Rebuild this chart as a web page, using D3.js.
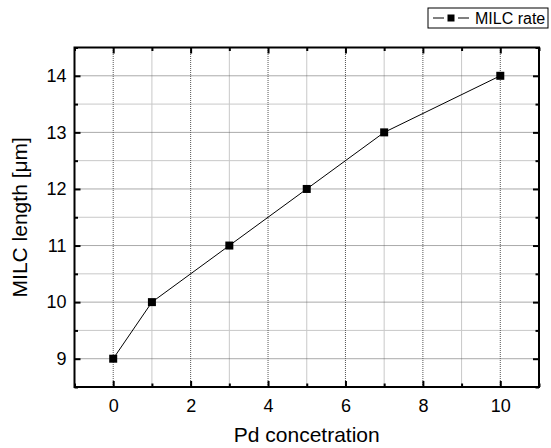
<!DOCTYPE html>
<html>
<head>
<meta charset="utf-8">
<script src="https://cdn.jsdelivr.net/npm/d3@7"></script>
<style>
  body { margin: 0; background: #fff; }
  svg { display: block; font-family: "Liberation Sans", Arial, sans-serif; }
</style>
</head>
<body>
<svg id="theSvg"></svg>
<script>
// data
const pdConc = [0, 1, 3, 5, 7, 10];
const milcLength = [9, 10, 11, 12, 13, 14];
const xTicks = [0, 2, 4, 6, 8, 10];
const yTicks = [9, 10, 11, 12, 13, 14];
const xMinor = [-1, 1, 3, 5, 7, 9, 11];
const yMinor = [8.5, 9.5, 10.5, 11.5, 12.5, 13.5, 14.5];
const seriesName = "MILC rate";

const width = 551, height = 448;
const margin = {top: 47.5, right: 12, bottom: 61, left: 74.5};

const svg = d3.select("#theSvg")
  .attr("width", width)
  .attr("height", height)
  .attr("viewBox", [0, 0, width, height]);

const x = d3.scaleLinear()
  .domain([-1, 11])
  .range([margin.left, width - margin.right]);

const y = d3.scaleLinear()
  .domain([8.5, 14.5])
  .range([height - margin.bottom, margin.top]);

// grid: minor lines light solid, major lines dotted
const grid = svg.append("g").attr("class", "grid");
grid.selectAll(".vminor").data(xMinor.filter(d => d > -1 && d < 11)).join("line")
  .attr("x1", d => x(d)).attr("x2", d => x(d))
  .attr("y1", y(8.5)).attr("y2", y(14.5))
  .attr("stroke", "#c8c8c8").attr("stroke-width", 1);
grid.selectAll(".hminor").data(yMinor.filter(d => d > 8.5 && d < 14.5)).join("line")
  .attr("x1", x(-1)).attr("x2", x(11))
  .attr("y1", d => y(d)).attr("y2", d => y(d))
  .attr("stroke", "#c8c8c8").attr("stroke-width", 1);
grid.selectAll(".vmajor").data(xTicks).join("line")
  .attr("x1", d => x(d)).attr("x2", d => x(d))
  .attr("y1", y(8.5)).attr("y2", y(14.5))
  .attr("stroke", "#555").attr("stroke-width", 1)
  .attr("stroke-dasharray", "1,1");
grid.selectAll(".hmajor").data(yTicks).join("line")
  .attr("x1", x(-1)).attr("x2", x(11))
  .attr("y1", d => y(d)).attr("y2", d => y(d))
  .attr("stroke", "#555").attr("stroke-width", 1)
  .attr("stroke-dasharray", "1,1");

// inward ticks on all four sides
function tickAxis(axisFn, scale, values, size, showLabels) {
  return axisFn(scale).tickValues(values).tickSizeInner(-size).tickSizeOuter(0)
    .tickFormat(showLabels ? d3.format("d") : () => "");
}

function styleAxis(g) {
  g.select(".domain").remove();
  g.selectAll(".tick line").attr("stroke", "#000").attr("stroke-width", 2);
  g.selectAll(".tick text").attr("fill", "#000").style("font-size", "18px");
}

const bottomY = y(8.5), topY = y(14.5), leftX = x(-1), rightX = x(11);

svg.append("g").attr("transform", `translate(0,${bottomY})`)
  .call(tickAxis(d3.axisBottom, x, xTicks, 6, true))
  .call(styleAxis)
  .call(g => g.selectAll(".tick text").attr("y", 12));
svg.append("g").attr("transform", `translate(0,${bottomY})`)
  .call(tickAxis(d3.axisBottom, x, xMinor, 3.5, false)).call(styleAxis);
svg.append("g").attr("transform", `translate(0,${topY})`)
  .call(tickAxis(d3.axisTop, x, xTicks, 6, false)).call(styleAxis);
svg.append("g").attr("transform", `translate(0,${topY})`)
  .call(tickAxis(d3.axisTop, x, xMinor, 3.5, false)).call(styleAxis);

svg.append("g").attr("transform", `translate(${leftX},0)`)
  .call(tickAxis(d3.axisLeft, y, yTicks, 6, true))
  .call(styleAxis)
  .call(g => g.selectAll(".tick text").attr("x", -8));
svg.append("g").attr("transform", `translate(${leftX},0)`)
  .call(tickAxis(d3.axisLeft, y, yMinor, 3.5, false)).call(styleAxis);
svg.append("g").attr("transform", `translate(${rightX},0)`)
  .call(tickAxis(d3.axisRight, y, yTicks, 6, false)).call(styleAxis);
svg.append("g").attr("transform", `translate(${rightX},0)`)
  .call(tickAxis(d3.axisRight, y, yMinor, 3.5, false)).call(styleAxis);

// frame
svg.append("rect")
  .attr("x", leftX).attr("y", topY)
  .attr("width", rightX - leftX).attr("height", bottomY - topY)
  .attr("fill", "none").attr("stroke", "#000").attr("stroke-width", 2);

// series
const points = pdConc.map((d, i) => [d, milcLength[i]]);
const line = d3.line().x(d => x(d[0])).y(d => y(d[1]));

svg.append("path")
  .datum(points)
  .attr("fill", "none")
  .attr("stroke", "#000")
  .attr("stroke-width", 1)
  .attr("d", line);

svg.append("g").selectAll("rect").data(points).join("rect")
  .attr("x", d => x(d[0]) - 4).attr("y", d => y(d[1]) - 4)
  .attr("width", 8).attr("height", 8)
  .attr("fill", "#000");

// axis titles
svg.append("text")
  .attr("x", (leftX + rightX) / 2).attr("y", 442)
  .attr("text-anchor", "middle")
  .style("font-size", "21px")
  .text("Pd concetration");

svg.append("text")
  .attr("transform", `translate(27,${(topY + bottomY) / 2}) rotate(-90)`)
  .attr("text-anchor", "middle")
  .style("font-size", "21px")
  .text("MILC length [\u03bcm]");

// legend
const legend = svg.append("g").attr("transform", "translate(428,8)");
legend.append("rect")
  .attr("width", 120).attr("height", 20)
  .attr("fill", "#fff").attr("stroke", "#000").attr("stroke-width", 1);
legend.selectAll(".seg").data([[5, 16], [30, 41]]).join("line")
  .attr("x1", d => d[0]).attr("x2", d => d[1]).attr("y1", 10).attr("y2", 10)
  .attr("stroke", "#000").attr("stroke-width", 1);
legend.append("rect")
  .attr("x", 19.5).attr("y", 6.5).attr("width", 7).attr("height", 7)
  .attr("fill", "#000");
legend.append("text")
  .attr("x", 47).attr("y", 15.5)
  .style("font-size", "16px")
  .text(seriesName);
</script>
</body>
</html>
